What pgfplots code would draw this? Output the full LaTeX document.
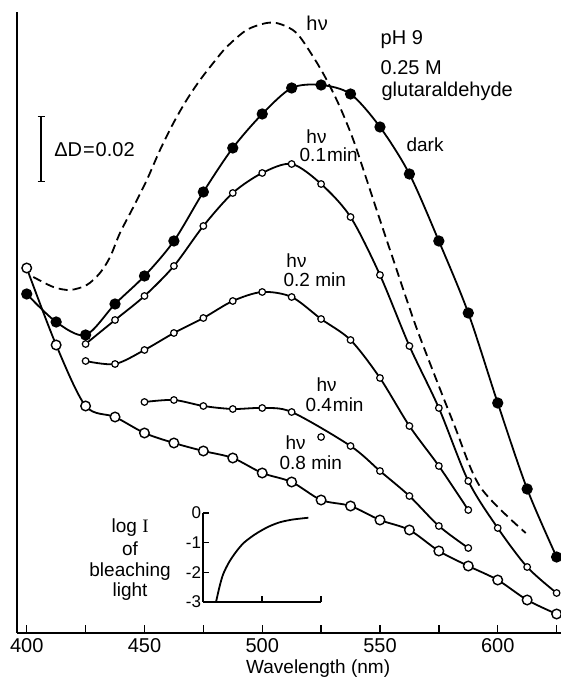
\documentclass[border=0pt]{standalone}
\usepackage{pgfplots}
\pgfplotsset{compat=1.18}
\usepackage{fontspec}
\setmainfont{Liberation Sans}
\newfontfamily\serif{Liberation Serif}
\newcommand\fa{\fontsize{20}{24}\selectfont}
\newcommand\fb{\fontsize{19}{23}\selectfont}
\newcommand\fc{\fontsize{17}{20}\selectfont}
\begin{document}
\begin{tikzpicture}
\begin{axis}[
 name=main, at={(0,0)}, anchor=south west, scale only axis,
 width=544pt, height=621pt,
 xmin=396, xmax=627, ymin=0, ymax=621,
 axis lines*=left,
 axis line style={-, line width=1.7pt},
 xtick={400,450,500,550,600}, xticklabels={400,450,500,550,600},
 minor xtick={425,475,525,575,625},
 ytick=\empty,
 tick align=inside,
 major tick length=8pt, minor tick length=8pt,
 tick style={line width=1.4pt, black},
 xticklabel style={font=\fa, inner sep=0pt, yshift=-5pt},
 xlabel={Wavelength (nm)},
 xlabel style={font=\fb, at={(axis description cs:0.553,0)}, anchor=north, inner sep=0pt, yshift=-27pt},
 clip=false,
 every node/.append style={inner sep=0pt},
]
% dashed hv (no marks)
\addplot[line width=1.8pt, smooth, dash pattern=on 9pt off 5pt] coordinates {
(402.8,356) (411.3,346) (418.4,343) (425.5,348) (431.1,360) (435.4,376)
(439.6,400) (445.3,426) (451,453) (456.6,483) (462.3,510) (467.9,533)
(473.6,553) (479.2,570) (484.9,586) (493.4,603) (501.9,610) (507.6,609)
(514.6,600) (521.7,576) (527.4,553) (533,526) (538.7,493) (544.4,453)
(550,413) (555.7,373) (561.4,333) (567.1,295) (581.2,210) (592.6,146) (611.9,100)};
% 0.8 min
\addplot[line width=1.8pt, smooth, mark=*, mark size=4.8pt, mark options={fill=white, draw=black, line width=1.4pt}] coordinates {
(400,365) (412.5,288) (425,227) (437.5,216) (450,200) (462.5,190) (475,182)
(487.5,175) (500,160) (512.5,151) (525,133) (537.5,127) (550,113) (562.5,103)
(575,82) (587.5,67) (600,53) (612.5,33) (625,19)};
% 0.4 min
\addplot[line width=1.8pt, smooth, mark=*, mark size=3.3pt, mark options={fill=white, draw=black, line width=1.2pt}] coordinates {
(450,231) (462.5,233) (475,227) (487.5,224) (500,225) (512.5,221)
(537.5,187) (550,162) (562.5,137) (575,107) (587.5,85)};
\addplot[only marks, mark=*, mark size=3.3pt, mark options={fill=white, draw=black, line width=1.2pt}] coordinates {(525,196)};
% 0.2 min
\addplot[line width=1.8pt, smooth, mark=*, mark size=3.3pt, mark options={fill=white, draw=black, line width=1.2pt}] coordinates {
(425,272) (437.5,269) (450,283) (462.5,300) (475,315) (487.5,332) (500,341)
(512.5,336) (525,314) (537.5,293) (550,255) (562.5,207) (575,167) (587.5,123)};
% 0.1 min
\addplot[line width=1.8pt, smooth, mark=*, mark size=3.3pt, mark options={fill=white, draw=black, line width=1.2pt}] coordinates {
(425,289) (437.5,313) (450,337) (462.5,367) (475,407) (487.5,440) (500,460)
(512.5,469) (525,449) (537.5,416) (550,358) (562.5,287) (575,225) (587.5,152)
(600,105) (612.5,66) (625,40)};
% dark
\addplot[line width=1.8pt, smooth, mark=*, mark size=4.7pt, mark options={fill=black, draw=black}] coordinates {
(400,339) (412.5,311) (425,298) (437.5,329) (450,357) (462.5,392) (475,441)
(487.5,485) (500,519) (512.5,545) (525,548) (537.5,539) (550,506) (562.5,459)
(575,392) (587.5,320) (600,230) (612.5,144) (625,76)};
% labels
\node[anchor=base, font=\fa] at (axis cs:523.3,602) {h\kern0.5pt ν};
\node[anchor=base west, font=\fa] at (axis cs:548.8,588) {pH 9};
\node[anchor=base west, font=\fa] at (axis cs:548.8,558) {0.25 M};
\node[anchor=base west, font=\fa] at (axis cs:549.2,536) {glutaraldehyde};
\node[anchor=base west, font=\fb] at (axis cs:559.8,481) {dark};
\node[anchor=base west, font=\fb] at (axis cs:517.3,489) {hν};
\node[anchor=base west, font=\fb] at (axis cs:514.4,471) {0.1\kern1pt min};
\node[anchor=base west, font=\fb] at (axis cs:508.8,365) {hν};
\node[anchor=base west, font=\fb] at (axis cs:507.6,346) {0.2 min};
\node[anchor=base west, font=\fb] at (axis cs:521.6,241) {hν};
\node[anchor=base west, font=\fb] at (axis cs:516.9,221) {0.4\kern1pt min};
\node[anchor=base west, font=\fb] at (axis cs:508.4,183) {hν};
\node[anchor=base west, font=\fb] at (axis cs:505.9,163) {0.8 min};
% Delta D scale bar
\draw[line width=1.7pt] (axis cs:406.1,451.3) -- (axis cs:406.1,516.3);
\draw[line width=1.5pt] (axis cs:404.6,516.3) -- (axis cs:407.6,516.3);
\draw[line width=1.5pt] (axis cs:404.6,451.3) -- (axis cs:407.6,451.3);
\node[anchor=base west, font=\fa] at (axis cs:410.2,476.5) {ΔD\kern1pt=\kern1pt0.02};
% inset label
\node[anchor=base, font=\fb] at (axis cs:443.9,100) {log {\serif I}};
\node[anchor=base, font=\fb] at (axis cs:443.9,77) {of};
\node[anchor=base, font=\fb] at (axis cs:443.9,56) {bleaching};
\node[anchor=base, font=\fb] at (axis cs:443.9,36) {light};
\end{axis}
\begin{axis}[
 at={(186pt,31pt)}, anchor=south west, scale only axis,
 width=117.75pt, height=89pt,
 xmin=475, xmax=525, ymin=-3, ymax=0,
 axis lines*=left,
 axis line style={-, line width=1.7pt},
 xtick={500,525}, xticklabels={},
 ytick={-3,-2,-1,0}, yticklabels={-3,-2,-1,0},
 tick align=inside, major tick length=6pt,
 tick style={line width=1.4pt, black},
 yticklabel style={font=\fc, inner sep=0pt, xshift=-2pt},
 clip=false,
]
\addplot[line width=1.8pt, smooth] coordinates {
(480.4,-3) (482,-2.45) (483.5,-2.05) (486,-1.65) (489,-1.3) (492,-1.02)
(495.5,-0.8) (499,-0.62) (503,-0.45) (507.6,-0.31) (513,-0.22) (519.6,-0.16)};
\end{axis}
\pgfresetboundingbox
\path (-17.3pt,-46pt) rectangle (543.7pt,633pt);
\end{tikzpicture}
\end{document}
